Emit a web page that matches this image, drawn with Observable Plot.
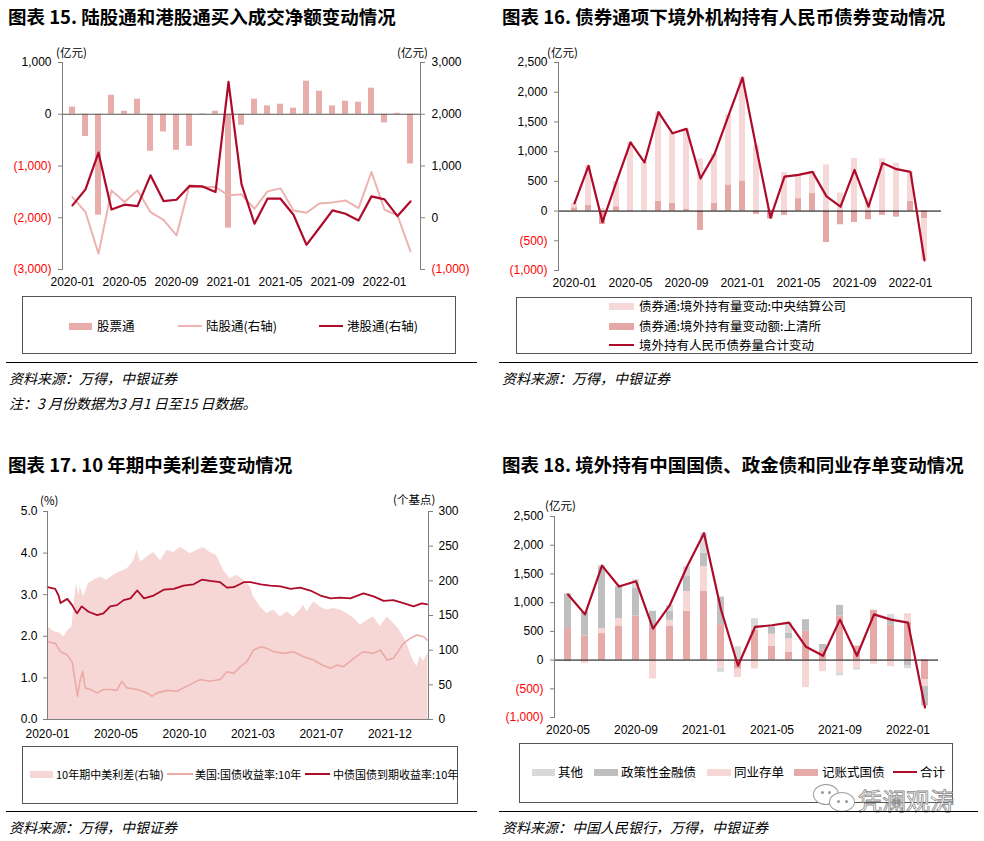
<!DOCTYPE html>
<html><head><meta charset="utf-8">
<script src="https://cdn.jsdelivr.net/npm/d3@7"></script>
<script src="https://cdn.jsdelivr.net/npm/@observablehq/plot@0.6"></script>
<style>
body{margin:0;background:#fff;}
#page{position:relative;width:984px;height:841px;overflow:hidden;font-family:"Noto Sans CJK SC",sans-serif;color:#000;}
.t{position:absolute;white-space:nowrap;line-height:1;transform:translateY(-50%);}
.title{font-weight:bold;font-size:18.5px;}
.src{font-style:italic;font-size:14px;}
.unit{font-size:11.5px;}
.leg{font-size:12.5px;}
.box{position:absolute;border:1px solid #555;box-sizing:border-box;}
.rule{position:absolute;height:0;border-top:1.5px solid #000;}
.sw{position:absolute;}
.plot{position:absolute;}
.bub{position:absolute;border:1.2px solid #9a9a9a;border-radius:50%;background:#fff;box-sizing:border-box;}
.eye{position:absolute;width:3px;height:3px;border-radius:50%;background:#9a9a9a;}
</style></head><body><div id="page"></div>
<script>
// ---------------- DATA ----------------
// Chart 15 (monthly, 2020-01 .. 2022-03)
const p1Months = ["2020-01","2020-02","2020-03","2020-04","2020-05","2020-06","2020-07","2020-08","2020-09","2020-10","2020-11","2020-12","2021-01","2021-02","2021-03","2021-04","2021-05","2021-06","2021-07","2021-08","2021-09","2021-10","2021-11","2021-12","2022-01","2022-02","2022-03"];
const p1Stock = [140,-430,-1950,368,58,290,-716,-342,-697,-619,10,58,-2200,-213,290,161,194,116,639,445,161,252,232,503,-168,19,-961];
const p1North = [400,110,-697,529,303,529,110,-39,-342,626,594,594,432,452,174,510,568,142,97,277,297,335,187,884,155,45,-652];
const p1South = [239,548,1258,161,252,226,819,323,348,613,606,497,2626,650,-116,368,368,58,-523,-194,142,77,-52,413,355,32,316];
const p1Ticks = ["2020-01","2020-05","2020-09","2021-01","2021-05","2021-09","2022-01"];

// Chart 16 (monthly, 2020-01 .. 2022-02)
const p2Months = ["2020-01","2020-02","2020-03","2020-04","2020-05","2020-06","2020-07","2020-08","2020-09","2020-10","2020-11","2020-12","2021-01","2021-02","2021-03","2021-04","2021-05","2021-06","2021-07","2021-08","2021-09","2021-10","2021-11","2021-12","2022-01","2022-02"];
const p2CCDC = [74,666,40,424,1140,813,1500,1179,1349,875,829,1180,1738,1100,20,650,400,361,778,304,886,220,880,807,496,-700];
const p2SHCH = [56,96,-226,73,17,5,164,130,34,-327,130,440,508,-56,-130,-73,209,299,-530,-231,-192,-147,-73,-102,164,-130];
const p2Total = [130,762,-186,495,1157,818,1665,1309,1383,547,959,1608,2246,1050,-113,581,609,660,248,73,694,73,807,705,660,-830];
const p2Ticks = ["2020-01","2020-05","2020-09","2021-01","2021-05","2021-09","2022-01"];

// Chart 17 (daily readings)
const cnDates = ["2020-01-02","2020-01-18","2020-01-25","2020-01-29","2020-02-12","2020-02-22","2020-03-03","2020-03-13","2020-03-27","2020-04-14","2020-04-27","2020-05-11","2020-05-25","2020-06-08","2020-06-22","2020-07-06","2020-07-20","2020-08-09","2020-08-30","2020-09-20","2020-10-10","2020-10-31","2020-11-17","2020-12-04","2020-12-25","2021-01-08","2021-01-22","2021-02-12","2021-02-26","2021-03-19","2021-04-08","2021-04-29","2021-05-20","2021-06-09","2021-06-30","2021-07-21","2021-08-11","2021-08-31","2021-09-21","2021-10-18","2021-11-08","2021-11-29","2021-12-19","2022-01-09","2022-01-30","2022-02-16","2022-02-27"];
const cnYield = [3.18,3.14,2.98,2.80,2.90,2.75,2.55,2.72,2.59,2.51,2.55,2.72,2.75,2.87,2.91,3.10,2.91,2.98,3.12,3.14,3.22,3.25,3.36,3.33,3.30,3.17,3.18,3.30,3.30,3.25,3.22,3.20,3.14,3.17,3.10,2.98,2.91,2.93,2.91,3.03,2.96,2.85,2.87,2.80,2.72,2.79,2.77];
const usDates = ["2020-01-02","2020-01-18","2020-01-29","2020-02-12","2020-02-22","2020-02-29","2020-03-04","2020-03-10","2020-03-15","2020-03-20","2020-03-31","2020-04-14","2020-04-27","2020-05-11","2020-05-25","2020-06-04","2020-06-15","2020-07-06","2020-07-26","2020-08-06","2020-08-16","2020-09-06","2020-09-27","2020-10-10","2020-10-31","2020-11-14","2020-12-04","2020-12-25","2021-01-08","2021-01-22","2021-02-05","2021-02-19","2021-03-04","2021-03-19","2021-04-01","2021-04-15","2021-05-06","2021-05-26","2021-06-16","2021-07-07","2021-07-24","2021-08-11","2021-08-24","2021-09-07","2021-09-28","2021-10-18","2021-11-08","2021-11-22","2021-12-06","2021-12-19","2022-01-09","2022-01-23","2022-02-06","2022-02-20","2022-02-27"];
const usYield = [1.87,1.83,1.63,1.55,1.39,0.88,0.56,0.96,1.15,0.76,0.72,0.64,0.72,0.72,0.70,0.92,0.76,0.72,0.64,0.56,0.64,0.70,0.68,0.76,0.88,0.96,0.92,0.96,1.15,1.11,1.27,1.40,1.67,1.75,1.71,1.63,1.59,1.63,1.51,1.43,1.31,1.23,1.31,1.27,1.47,1.63,1.59,1.67,1.43,1.47,1.83,1.95,2.03,1.99,1.91];
const spreadDates = ["2020-01-02","2020-01-15","2020-01-29","2020-02-05","2020-02-12","2020-02-22","2020-02-27","2020-03-02","2020-03-07","2020-03-10","2020-03-17","2020-03-27","2020-04-07","2020-04-20","2020-05-04","2020-05-18","2020-06-01","2020-06-15","2020-06-29","2020-07-06","2020-07-13","2020-07-26","2020-08-09","2020-08-23","2020-09-06","2020-09-20","2020-10-03","2020-10-10","2020-10-24","2020-11-07","2020-11-21","2020-12-04","2020-12-18","2021-01-01","2021-01-15","2021-01-29","2021-02-12","2021-02-26","2021-03-04","2021-03-19","2021-04-01","2021-04-15","2021-04-29","2021-05-13","2021-05-26","2021-06-09","2021-06-16","2021-06-23","2021-07-07","2021-07-21","2021-08-03","2021-08-17","2021-08-31","2021-09-14","2021-09-28","2021-10-12","2021-10-26","2021-11-08","2021-11-22","2021-12-06","2021-12-13","2021-12-19","2021-12-30","2022-01-09","2022-01-16","2022-01-23","2022-01-30","2022-02-06","2022-02-13","2022-02-20","2022-03-01"];
const spreadBp = [134,127,124,119,127,134,172,196,179,191,177,196,201,205,201,208,213,217,229,244,227,234,241,229,244,241,248,246,239,244,248,241,236,215,203,208,201,191,177,162,153,158,148,155,148,158,165,155,170,162,158,160,158,153,146,136,143,148,134,148,143,139,131,119,110,96,84,76,91,84,96];
const p3Ticks = ["2020-01-02","2020-05-23","2020-10-12","2021-03-03","2021-07-23","2021-12-12"];

// Chart 18 (monthly, 2020-05 .. 2022-02)
const p4Months = ["2020-05","2020-06","2020-07","2020-08","2020-09","2020-10","2020-11","2020-12","2021-01","2021-02","2021-03","2021-04","2021-05","2021-06","2021-07","2021-08","2021-09","2021-10","2021-11","2021-12","2022-01","2022-02"];
const p4Treasury = [548,421,461,594,767,550,594,848,1194,617,-161,519,242,138,502,173,767,242,865,606,663,-346];
const p4NCD = [0,-63,87,127,0,-330,98,346,433,-144,-144,-156,208,231,-479,-202,-219,-133,-75,-115,144,-115];
const p4Policy = [605,415,1079,559,490,300,161,260,231,479,0,0,127,104,202,98,185,0,0,98,-98,-329];
const p4Other = [-29,0,17,0,144,0,98,173,352,-69,231,202,0,173,0,0,-58,-40,0,87,-52,-17];
const p4Total = [1142,796,1644,1280,1373,548,963,1626,2209,880,-98,577,606,652,231,75,704,75,796,704,652,-825];
const p4Ticks = ["2020-05","2020-09","2021-01","2021-05","2021-09","2022-01"];

// ---------------- STYLE ----------------
const NUM = "'Liberation Sans', Arial, sans-serif";
const RED = "#AE0A2A", PINK = "#EDB3B0", BAR = "#E8ADAB";
const fmt = d => d < 0 ? `(${d3.format(",")(-d)})` : d3.format(",")(d);
const page = document.getElementById("page");
const baseStyle = {fontFamily: NUM, fontSize: "12px", background: "transparent", color: "#000", overflow: "visible"};

function put(el, left, top) { el.classList.add("plot"); el.style.left = left + "px"; el.style.top = top + "px"; page.appendChild(el); }
function txt(s, x, y, cls, extra = "") { const d = document.createElement("div"); d.className = "t " + cls; d.style.left = x + "px"; d.style.top = y + "px"; d.style.cssText += extra; d.textContent = s; page.appendChild(d); return d; }
function box(x, y, w, h) { const d = document.createElement("div"); d.className = "box"; Object.assign(d.style, {left: x + "px", top: y + "px", width: w + "px", height: h + "px"}); page.appendChild(d); }
function rule(x1, x2, y) { const d = document.createElement("div"); d.className = "rule"; Object.assign(d.style, {left: x1 + "px", top: y + "px", width: (x2 - x1) + "px"}); page.appendChild(d); }
function sw(x, y, w, h, color) { const d = document.createElement("div"); d.className = "sw"; Object.assign(d.style, {left: x + "px", top: (y - h / 2) + "px", width: w + "px", height: h + "px", background: color}); page.appendChild(d); }
function deco(cls, x, y, w, h) { const d = document.createElement("div"); d.className = cls; Object.assign(d.style, {left: x + "px", top: y + "px", width: w + "px", height: h + "px"}); page.appendChild(d); }

function yAxes(ticks, anchor, opts = {}) {
  const common = {anchor, tickFormat: fmt, tickSize: 4, tickPadding: 7, label: null, stroke: "#808080", ...opts};
  return [
    Plot.axisY(ticks.filter(d => d >= 0), {...common, fill: "#000"}),
    Plot.axisY(ticks.filter(d => d < 0), {...common, fill: "#FF0000"})
  ];
}

// ---------------- CHART 15 ----------------
const d1 = p1Months.map((m, i) => ({m, stock: p1Stock[i], north: p1North[i], south: p1South[i]}));
const dims1 = {width: 490, height: 260, marginLeft: 62, marginRight: 70, marginTop: 22, marginBottom: 31};
const x1 = {type: "band", domain: p1Months, paddingInner: 0.57, paddingOuter: 0.3};
put(Plot.plot({...dims1, style: baseStyle, x: x1, y: {domain: [-3000, 1000]},
  marks: [
    Plot.barY(d1, {x: "m", y: "stock", fill: BAR}),
    Plot.ruleY([0], {stroke: "#555"}),
    Plot.frame({anchor: "left", stroke: "#808080"}),
    ...yAxes([1000, 0, -1000, -2000, -3000], "left"),
    Plot.axisX(p1Ticks, {anchor: "bottom", tickSize: 0, tickPadding: 8, label: null, fill: "#000"})
  ]}), 0, 40);
put(Plot.plot({...dims1, style: baseStyle, x: {...x1, axis: null}, y: {domain: [-1000, 3000]},
  marks: [
    Plot.line(d1, {x: "m", y: "north", stroke: PINK, strokeWidth: 2}),
    Plot.line(d1, {x: "m", y: "south", stroke: RED, strokeWidth: 2.2}),
    Plot.frame({anchor: "right", stroke: "#808080"}),
    ...yAxes([3000, 2000, 1000, 0, -1000], "right")
  ]}), 0, 40);

// ---------------- CHART 16 ----------------
const d2 = p2Months.flatMap((m, i) => [{m, s: "上清所", v: p2SHCH[i]}, {m, s: "中央结算公司", v: p2CCDC[i]}]);
const d2t = p2Months.map((m, i) => ({m, v: p2Total[i]}));
put(Plot.plot({width: 489, height: 260, marginLeft: 63, marginRight: 43, marginTop: 22, marginBottom: 30, style: baseStyle,
  x: {type: "band", domain: p2Months, paddingInner: 0.55, paddingOuter: 0.285},
  y: {domain: [-1000, 2500]},
  color: {domain: ["上清所", "中央结算公司"], range: ["#E6A8A6", "#F7D8D8"]},
  marks: [
    Plot.barY(d2, {x: "m", y: "v", fill: "s", order: ["上清所", "中央结算公司"]}),
    Plot.ruleY([0], {stroke: "#000"}),
    Plot.frame({anchor: "left", stroke: "#808080"}),
    ...yAxes([2500, 2000, 1500, 1000, 500, 0, -500, -1000], "left"),
    Plot.axisX(p2Ticks, {anchor: "bottom", tickSize: 0, tickPadding: 8, label: null, fill: "#000"}),
    Plot.line(d2t, {x: "m", y: "v", stroke: RED, strokeWidth: 2.2})
  ]}), 495, 40);

// ---------------- CHART 17 ----------------
const pd = d3.utcParse("%Y-%m-%d");
const cn = cnDates.map((d, i) => ({d: pd(d), v: cnYield[i]}));
const us = usDates.map((d, i) => ({d: pd(d), v: usYield[i]}));
const sp = spreadDates.map((d, i) => ({d: pd(d), v: spreadBp[i]}));
const dims3 = {width: 490, height: 265, marginLeft: 47, marginRight: 62, marginTop: 31, marginBottom: 26};
const x3 = {type: "utc", domain: [pd("2020-01-02"), pd("2022-03-02")]};
put(Plot.plot({...dims3, style: baseStyle, x: {...x3, axis: null}, y: {domain: [0, 300]},
  marks: [
    Plot.areaY(sp, {x: "d", y: "v", fill: "#F6D7D5"}),
    Plot.frame({anchor: "right", stroke: "#808080"}),
    Plot.axisY([0, 50, 100, 150, 200, 250, 300], {anchor: "right", tickSize: 4, tickPadding: 6, label: null, stroke: "#808080", fill: "#000"})
  ]}), 0, 480);
put(Plot.plot({...dims3, style: baseStyle, x: x3, y: {domain: [0, 5]},
  marks: [
    Plot.line(us, {x: "d", y: "v", stroke: "#EBAAA6", strokeWidth: 1.6}),
    Plot.line(cn, {x: "d", y: "v", stroke: RED, strokeWidth: 1.8}),
    Plot.frame({anchor: "left", stroke: "#808080"}),
    Plot.frame({anchor: "bottom", stroke: "#808080"}),
    Plot.axisY([0, 1, 2, 3, 4, 5], {anchor: "left", tickFormat: d3.format(".1f"), tickSize: 4, tickPadding: 6, label: null, stroke: "#808080", fill: "#000"}),
    Plot.axisX(p3Ticks.map(pd), {anchor: "bottom", tickFormat: d3.utcFormat("%Y-%m"), tickSize: 0, tickPadding: 10, label: null, fill: "#000"})
  ]}), 0, 480);

// ---------------- CHART 18 ----------------
const series4 = ["记账式国债", "同业存单", "政策性金融债", "其他"];
const vals4 = [p4Treasury, p4NCD, p4Policy, p4Other];
const d4 = p4Months.flatMap((m, i) => series4.map((s, k) => ({m, s, v: vals4[k][i]})));
const d4t = p4Months.map((m, i) => ({m, v: p4Total[i]}));
put(Plot.plot({width: 489, height: 265, marginLeft: 59, marginRight: 46, marginTop: 36, marginBottom: 28, style: baseStyle,
  x: {type: "band", domain: p4Months, paddingInner: 0.58, paddingOuter: 0.305},
  y: {domain: [-1000, 2500]},
  color: {domain: series4, range: ["#E6ABA8", "#F7D7D6", "#BFBFBF", "#D9D9D9"]},
  marks: [
    Plot.barY(d4, {x: "m", y: "v", fill: "s", order: series4}),
    Plot.ruleY([0], {stroke: "#000"}),
    Plot.frame({anchor: "left", stroke: "#808080"}),
    ...yAxes([2500, 2000, 1500, 1000, 500, 0, -500, -1000], "left"),
    Plot.axisX(p4Ticks, {anchor: "bottom", tickSize: 0, tickPadding: 8, label: null, fill: "#000"}),
    Plot.line(d4t, {x: "m", y: "v", stroke: RED, strokeWidth: 2.2})
  ]}), 495, 480);

// ---------------- TEXT / LEGENDS ----------------
txt("图表 15. 陆股通和港股通买入成交净额变动情况", 8, 16, "title");
txt("图表 16. 债券通项下境外机构持有人民币债券变动情况", 502, 16, "title");
txt("图表 17. 10 年期中美利差变动情况", 8, 464, "title");
txt("图表 18. 境外持有中国国债、政金债和同业存单变动情况", 502, 464, "title");

txt("(亿元)", 56, 53, "unit");
txt("(亿元)", 397, 53, "unit");
txt("(亿元)", 547, 53, "unit");
txt("(%)", 40, 501, "unit");
txt("(个基点)", 393, 500, "unit");
txt("(亿元)", 545, 506, "unit");

// legend 15
box(22, 296, 434, 58);
sw(69, 326, 23, 7, BAR); txt("股票通", 97, 326, "leg");
sw(178, 326, 24, 2, PINK); txt("陆股通(右轴)", 206, 326, "leg");
sw(319, 326, 24, 2, RED); txt("港股通(右轴)", 347, 326, "leg");
rule(6, 477, 362);
txt("资料来源：万得，中银证券", 9, 378, "src");
txt("注：3 月份数据为3 月1 日至15 日数据。", 9, 403, "src");

// legend 16
box(516, 297, 456, 57);
sw(609, 306, 25, 7, "#F7D8D8"); txt("债券通:境外持有量变动:中央结算公司", 639, 306, "leg");
sw(609, 326, 25, 7, "#E6A8A6"); txt("债券通:境外持有量变动额:上清所", 639, 326, "leg");
sw(609, 345, 25, 2, RED); txt("境外持有人民币债券量合计变动", 639, 345, "leg");
rule(499, 978, 362);
txt("资料来源：万得，中银证券", 502, 378, "src");

// legend 17
box(22, 746, 436, 58);
sw(30, 774, 23, 7, "#F6D7D5"); txt("10年期中美利差(右轴)", 56, 774, "leg", "font-size:11px;");
sw(167, 774, 26, 2, "#EBAAA6"); txt("美国:国债收益率:10年", 195, 774, "leg", "font-size:11px;");
sw(305, 774, 25, 2, RED); txt("中债国债到期收益率:10年", 333, 774, "leg", "font-size:11px;");
rule(6, 477, 811);
txt("资料来源：万得，中银证券", 9, 827, "src");

// legend 18
box(519, 743, 434, 60);
sw(532, 772, 23, 7, "#D9D9D9"); txt("其他", 558, 772, "leg");
sw(594, 772, 24, 7, "#BFBFBF"); txt("政策性金融债", 621, 772, "leg");
sw(707, 772, 24, 7, "#F7D7D6"); txt("同业存单", 734, 772, "leg");
sw(794, 772, 24, 7, "#E6ABA8"); txt("记账式国债", 822, 772, "leg");
sw(893, 772, 24, 2, RED); txt("合计", 920, 772, "leg");
// watermark
deco("bub", 813, 784, 26, 21);
deco("bub", 829, 792, 26, 20);
deco("eye", 821, 791, 3, 3); deco("eye", 828, 791, 3, 3);
deco("eye", 837, 800, 3, 3); deco("eye", 845, 800, 3, 3);
txt("凭澜观涛", 858, 800, "leg", "font-size:24px;color:#fff;-webkit-text-stroke:0.8px #8c8c8c;");
rule(499, 978, 811);
txt("资料来源：中国人民银行，万得，中银证券", 502, 827, "src");
</script></body></html>
